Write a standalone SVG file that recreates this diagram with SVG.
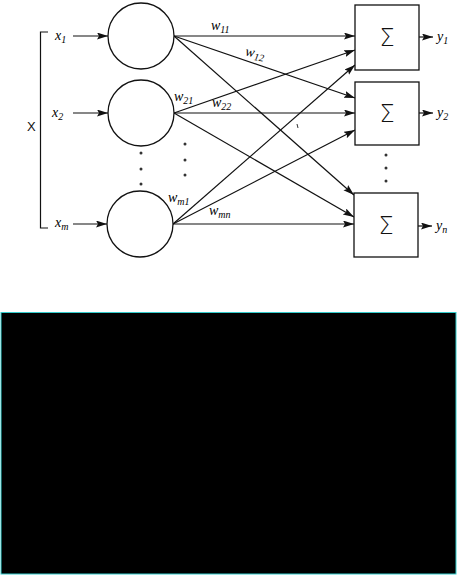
<svg xmlns="http://www.w3.org/2000/svg" width="457" height="575" viewBox="0 0 457 575">
<style>
.ln{stroke:#111;stroke-width:1.2;fill:none}
.nd{stroke:#111;stroke-width:1.3;fill:#fff}
.lb{font-family:"Liberation Serif",serif;font-style:italic;font-size:14px;fill:#000}
.sb{font-size:10px}
.sg{font-family:"DejaVu Sans",sans-serif;font-weight:200;font-size:24px;fill:#111;text-anchor:middle}
.dot{fill:#333}
</style>
<defs>
<marker id="ah" markerUnits="userSpaceOnUse" markerWidth="12" markerHeight="8" refX="11" refY="3.5" orient="auto">
<path d="M0,0 L11,3.5 L0,7 L2,3.5 z" fill="#111"/>
</marker>
</defs>
<rect width="457" height="575" fill="#fff"/>

<g id="connectors">
<path class="ln" d="M48,32 H40.5 V228 H48"/>
<line class="ln" x1="73" y1="36" x2="108" y2="36" marker-end="url(#ah)"/>
<line class="ln" x1="73" y1="113" x2="108" y2="113" marker-end="url(#ah)"/>
<line class="ln" x1="73" y1="224" x2="107" y2="224" marker-end="url(#ah)"/>
<line class="ln" x1="174" y1="36" x2="355" y2="36" marker-end="url(#ah)"/>
<line class="ln" x1="174" y1="36" x2="355" y2="98" marker-end="url(#ah)"/>
<line class="ln" x1="174" y1="36" x2="354" y2="195" marker-end="url(#ah)"/>
<line class="ln" x1="174" y1="113" x2="355" y2="50" marker-end="url(#ah)"/>
<line class="ln" x1="174" y1="113" x2="355" y2="113" marker-end="url(#ah)"/>
<line class="ln" x1="174" y1="113" x2="354" y2="217" marker-end="url(#ah)"/>
<line class="ln" x1="173" y1="224" x2="355" y2="65" marker-end="url(#ah)"/>
<line class="ln" x1="173" y1="224" x2="355" y2="130" marker-end="url(#ah)"/>
<line class="ln" x1="173" y1="224" x2="354" y2="224" marker-end="url(#ah)"/>
<line class="ln" x1="419" y1="37" x2="433" y2="37" marker-end="url(#ah)"/>
<line class="ln" x1="419" y1="113" x2="433" y2="113" marker-end="url(#ah)"/>
<line class="ln" x1="418" y1="226" x2="432" y2="226" marker-end="url(#ah)"/>
</g>

<g id="input-X">
<text x="27" y="131" font-family="Liberation Sans,sans-serif" font-size="13" fill="#111">X</text>
</g>
<g id="in1"><circle class="nd" cx="141" cy="36" r="33"/><text class="lb" x="55" y="40">x<tspan class="sb" dy="3">1</tspan></text></g>
<g id="in2"><circle class="nd" cx="141" cy="113" r="33"/><text class="lb" x="52" y="117">x<tspan class="sb" dy="3">2</tspan></text></g>
<g id="inm"><circle class="nd" cx="140" cy="224" r="33"/><text class="lb" x="55" y="227">x<tspan class="sb" dy="3">m</tspan></text></g>

<g id="sum1"><rect class="nd" x="355" y="5" width="64" height="65"/><text class="sg" x="387" y="46">Σ</text><text class="lb" x="437" y="41">y<tspan class="sb" dy="3">1</tspan></text></g>
<g id="sum2"><rect class="nd" x="355" y="82" width="64" height="63"/><text class="sg" x="387" y="122">Σ</text><text class="lb" x="437" y="117">y<tspan class="sb" dy="3">2</tspan></text></g>
<g id="sumn"><rect class="nd" x="354" y="193" width="64" height="64"/><text class="sg" x="386" y="234">Σ</text><text class="lb" x="436" y="230">y<tspan class="sb" dy="3">n</tspan></text></g>

<g id="weights">
<text class="lb" x="211" y="30">w<tspan class="sb" dy="3">11</tspan></text>
<text class="lb" x="245" y="57" transform="rotate(10 254 55)">w<tspan class="sb" dy="3">12</tspan></text>
<text class="lb" x="174" y="101">w<tspan class="sb" dy="3">21</tspan></text>
<text class="lb" x="212" y="107">w<tspan class="sb" dy="3">22</tspan></text>
<text class="lb" x="168" y="202">w<tspan class="sb" dy="3">m1</tspan></text>
<text class="lb" x="209" y="215">w<tspan class="sb" dy="3">mn</tspan></text>
</g>

<g id="dots">
<circle class="dot" cx="141" cy="153" r="1.5"/>
<circle class="dot" cx="141" cy="169" r="1.5"/>
<circle class="dot" cx="141" cy="184" r="1.5"/>
<circle class="dot" cx="185" cy="144" r="1.5"/>
<circle class="dot" cx="185" cy="160" r="1.5"/>
<circle class="dot" cx="185" cy="175" r="1.5"/>
<circle class="dot" cx="386" cy="155" r="1.5"/>
<circle class="dot" cx="386" cy="168" r="1.5"/>
<circle class="dot" cx="386" cy="181" r="1.5"/>
<line x1="297" y1="124" x2="298" y2="128" stroke="#333" stroke-width="1"/>
</g>

<rect x="1" y="312.5" width="455" height="261.5" fill="#000" stroke="#3cc" stroke-width="1"/>
</svg>
